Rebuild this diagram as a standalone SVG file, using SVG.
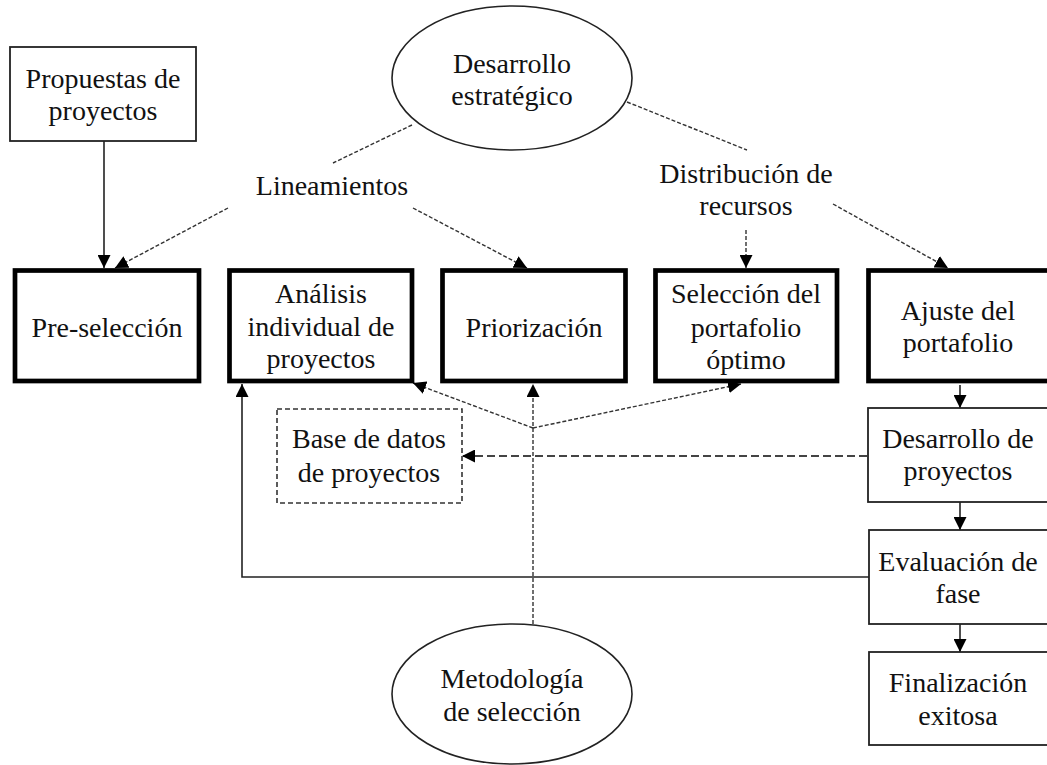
<svg xmlns="http://www.w3.org/2000/svg" width="1047" height="765" viewBox="0 0 1047 765">
<style>
text{font-family:"Liberation Serif","Times New Roman",serif;font-size:28px;fill:#111;text-anchor:middle}
.thick{fill:#fff;stroke:#000;stroke-width:4.7}
.thin{fill:#fff;stroke:#222;stroke-width:1.8}
.dbox{fill:#fff;stroke:#333;stroke-width:1.6;stroke-dasharray:5 3}
.ell{fill:#fff;stroke:#222;stroke-width:1.6}
.c{fill:none;stroke:#222;stroke-width:1.6}
.d{fill:none;stroke:#333;stroke-width:1.4;stroke-dasharray:4 2}
.dl{fill:none;stroke:#444;stroke-width:1.8;stroke-dasharray:8 4}
</style>
<defs>
<marker id="ah" markerUnits="userSpaceOnUse" markerWidth="13" markerHeight="13" refX="13" refY="6.5" orient="auto">
<path d="M0,0 L13,6.5 L0,13 z" fill="#000"/>
</marker>
</defs>
<g id="connectors">
<path class="c" d="M104,141 L104,268" marker-end="url(#ah)"/>
<path class="d" d="M412,125 L333,163"/>
<path class="d" d="M228,208 L115,268" marker-end="url(#ah)"/>
<path class="d" d="M413,208 L527,268" marker-end="url(#ah)"/>
<path class="d" d="M627,102 L747,150"/>
<path class="d" d="M746,230 L746,268" marker-end="url(#ah)"/>
<path class="d" d="M833,204 L948,268" marker-end="url(#ah)"/>
<path class="c" d="M960,385 L960,408" marker-end="url(#ah)"/>
<path class="c" d="M960,502 L960,530" marker-end="url(#ah)"/>
<path class="c" d="M960,624 L960,652" marker-end="url(#ah)"/>
<path class="dl" d="M867,456 L462,456" marker-end="url(#ah)"/>
<path class="c" d="M869,577 L242,577 L242,384" marker-end="url(#ah)"/>
<path class="d" d="M533,624 L533,384" marker-end="url(#ah)"/>
<path class="d" d="M533,428 L413,383" marker-end="url(#ah)"/>
<path class="d" d="M533,428 L741,384" marker-end="url(#ah)"/>
</g>
<g id="propuestas">
<rect class="thin" x="10" y="47" width="186" height="94"/>
<text x="103" y="88">Propuestas de</text>
<text x="103" y="120">proyectos</text>
</g>
<g id="desarrollo-estrategico">
<ellipse class="ell" cx="512" cy="78" rx="120" ry="72"/>
<text x="512" y="73">Desarrollo</text>
<text x="512" y="105">estratégico</text>
</g>
<g id="lineamientos">
<text x="332" y="195">Lineamientos</text>
</g>
<g id="distribucion">
<text x="746" y="183">Distribución de</text>
<text x="746" y="215">recursos</text>
</g>
<g id="preseleccion">
<rect class="thick" x="15" y="270.5" width="184" height="110.5"/>
<text x="107" y="337">Pre-selección</text>
</g>
<g id="analisis">
<rect class="thick" x="229.5" y="270.5" width="182.5" height="110.5"/>
<text x="321" y="303">Análisis</text>
<text x="321" y="336">individual de</text>
<text x="321" y="368">proyectos</text>
</g>
<g id="priorizacion">
<rect class="thick" x="442.5" y="270.5" width="183" height="110.5"/>
<text x="534" y="337">Priorización</text>
</g>
<g id="seleccion">
<rect class="thick" x="655.5" y="270.5" width="181.5" height="110.5"/>
<text x="746" y="303">Selección del</text>
<text x="746" y="337">portafolio</text>
<text x="746" y="369">óptimo</text>
</g>
<g id="ajuste">
<rect class="thick" x="868.5" y="270.5" width="185" height="110.5"/>
<text x="958" y="320">Ajuste del</text>
<text x="958" y="352">portafolio</text>
</g>
<g id="desarrollo-proyectos">
<rect class="thin" x="868" y="408" width="185" height="94"/>
<text x="958" y="448">Desarrollo de</text>
<text x="958" y="480">proyectos</text>
</g>
<g id="base-datos">
<rect class="dbox" x="277" y="409" width="185" height="94"/>
<text x="369" y="448">Base de datos</text>
<text x="369" y="482">de proyectos</text>
</g>
<g id="evaluacion">
<rect class="thin" x="869" y="530" width="185" height="94"/>
<text x="958" y="571">Evaluación de</text>
<text x="958" y="603">fase</text>
</g>
<g id="finalizacion">
<rect class="thin" x="869" y="652" width="185" height="93"/>
<text x="958" y="692">Finalización</text>
<text x="958" y="725">exitosa</text>
</g>
<g id="metodologia">
<ellipse class="ell" cx="512" cy="694" rx="120" ry="70"/>
<text x="512" y="688">Metodología</text>
<text x="512" y="721">de selección</text>
</g>
</svg>
